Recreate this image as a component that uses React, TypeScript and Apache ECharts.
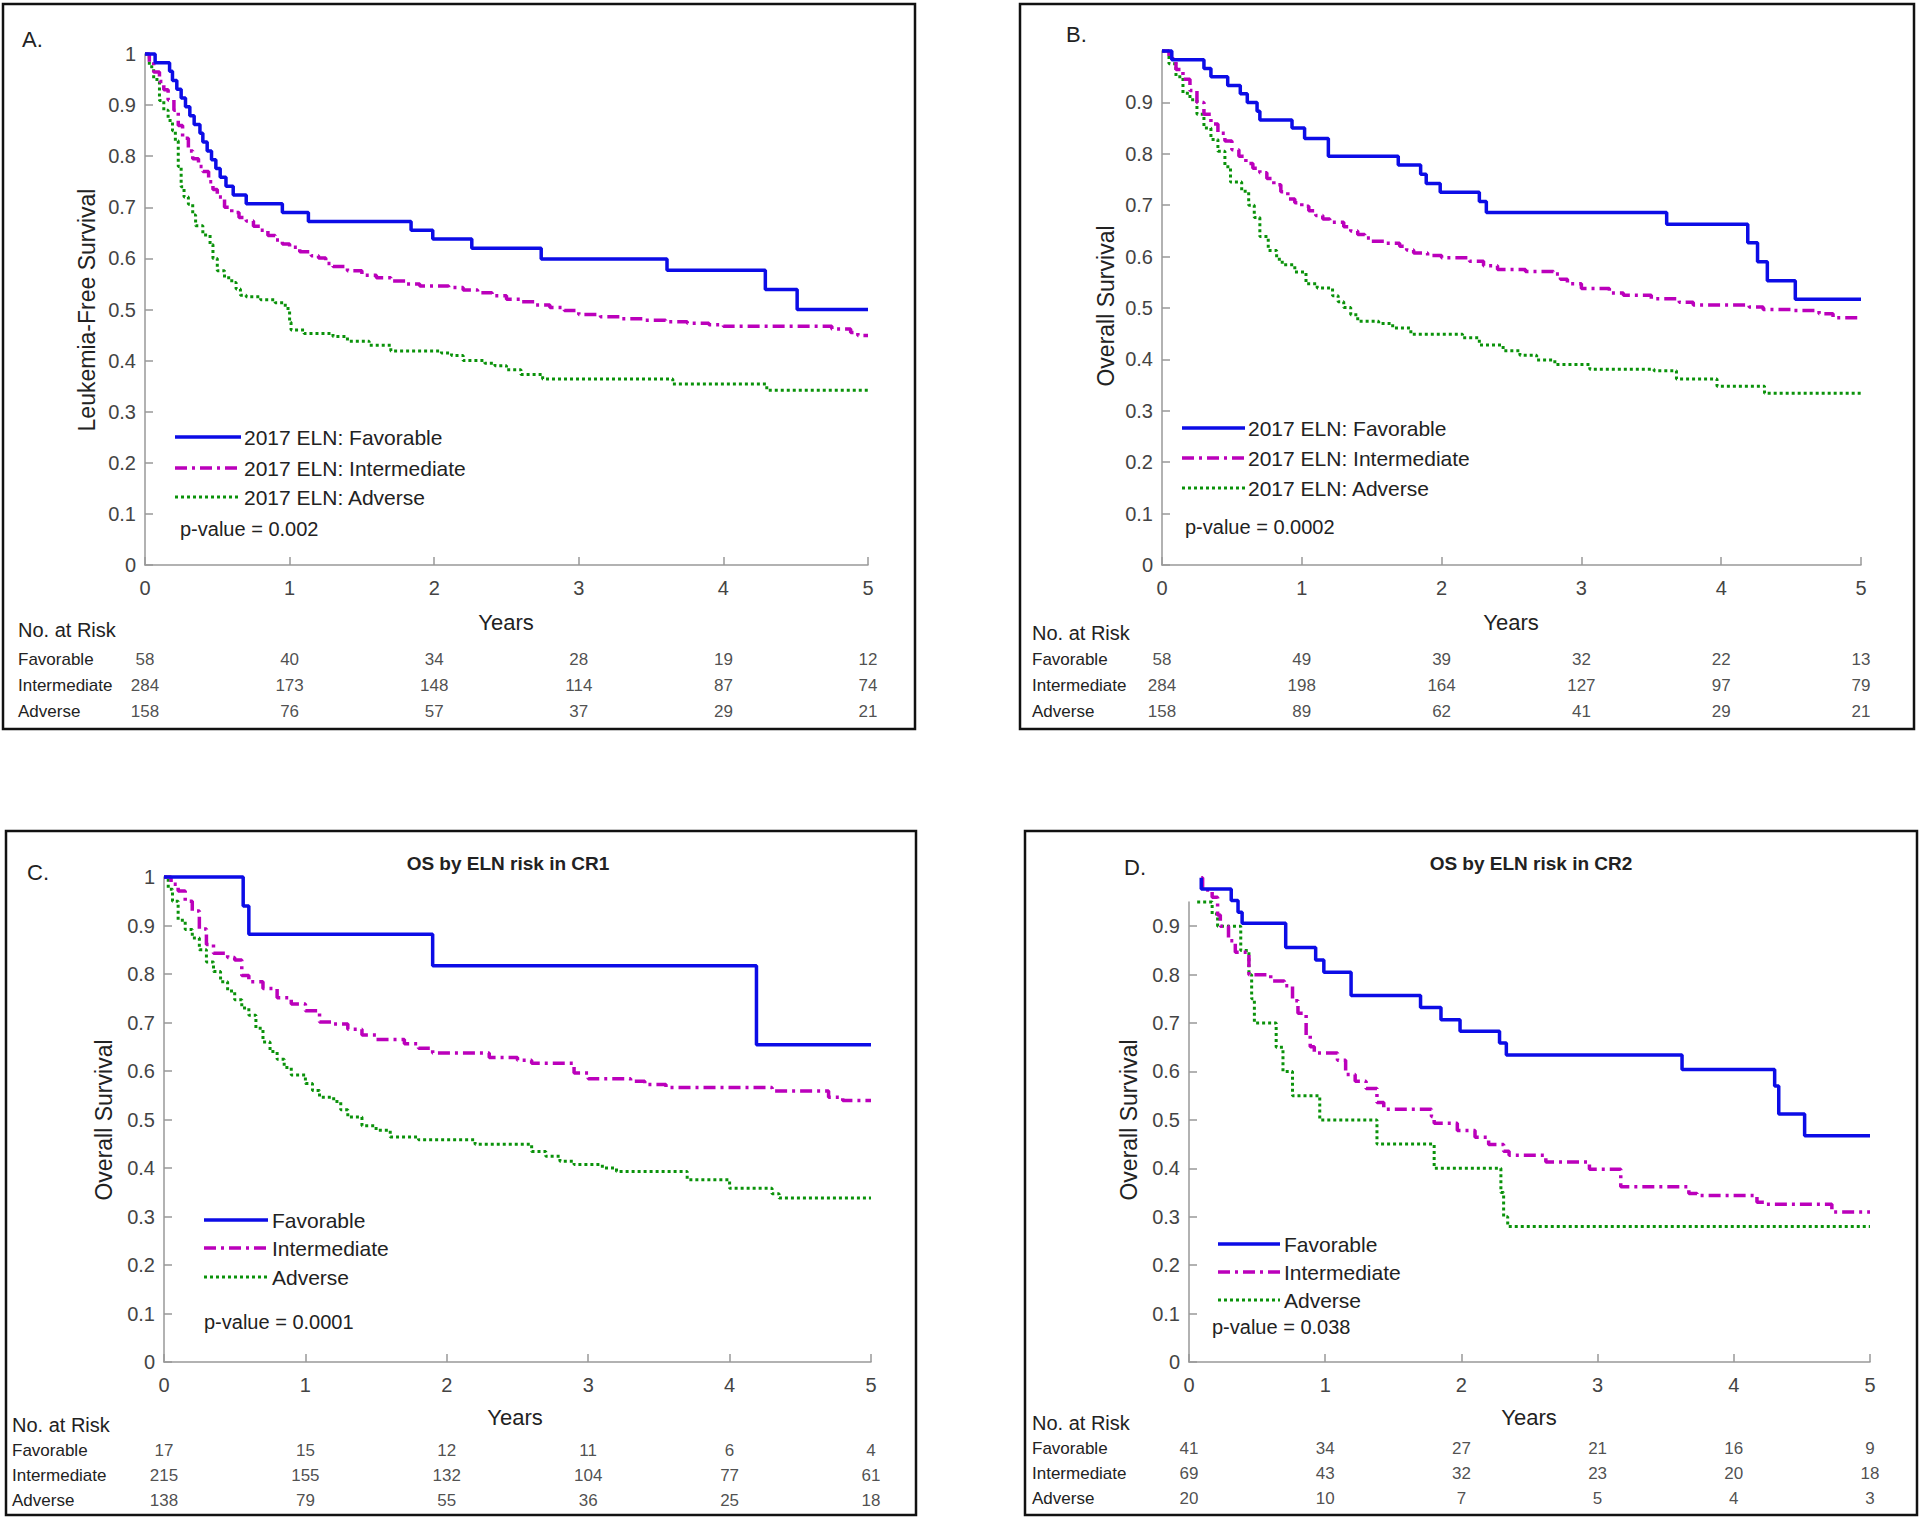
import React, { useEffect, useRef } from 'react';
import * as echarts from 'echarts';

const years = [0, 1, 2, 3, 4, 5];
const riskGroups = ['Favorable', 'Intermediate', 'Adverse'];
const yTickValues = [0, 0.1, 0.2, 0.3, 0.4, 0.5, 0.6, 0.7, 0.8, 0.9];

// Panel A: Leukemia-free survival
const aFav = [[0,1],[0.07,0.983],[0.17,0.966],[0.19,0.948],[0.22,0.931],[0.25,0.914],[0.28,0.897],[0.31,0.879],[0.34,0.862],[0.38,0.845],[0.4,0.828],[0.43,0.81],[0.46,0.793],[0.49,0.776],[0.52,0.759],[0.56,0.741],[0.61,0.724],[0.7,0.707],[0.95,0.69],[1.13,0.672],[1.84,0.655],[1.99,0.638],[2.26,0.62],[2.74,0.599],[3.61,0.577],[4.29,0.539],[4.51,0.5],[5,0.5]];
const aInt = [[0,1],[0.03,0.985],[0.06,0.965],[0.1,0.946],[0.13,0.93],[0.16,0.91],[0.2,0.89],[0.23,0.86],[0.26,0.835],[0.3,0.81],[0.33,0.795],[0.37,0.78],[0.4,0.77],[0.44,0.75],[0.47,0.735],[0.5,0.72],[0.55,0.7],[0.6,0.69],[0.65,0.68],[0.7,0.673],[0.75,0.663],[0.8,0.655],[0.85,0.645],[0.9,0.636],[0.95,0.628],[1,0.622],[1.07,0.613],[1.15,0.605],[1.2,0.601],[1.25,0.59],[1.3,0.584],[1.4,0.576],[1.5,0.567],[1.6,0.562],[1.7,0.556],[1.8,0.55],[1.9,0.546],[2.1,0.543],[2.2,0.538],[2.3,0.533],[2.4,0.527],[2.5,0.52],[2.6,0.515],[2.7,0.509],[2.8,0.504],[2.9,0.498],[3,0.49],[3.15,0.486],[3.3,0.482],[3.45,0.479],[3.6,0.476],[3.75,0.473],[3.9,0.47],[4,0.467],[4.75,0.462],[4.88,0.455],[4.93,0.449],[5,0.449]];
const aAdv = [[0,1],[0.03,0.975],[0.06,0.95],[0.1,0.909],[0.13,0.89],[0.16,0.87],[0.19,0.85],[0.21,0.83],[0.23,0.78],[0.25,0.74],[0.27,0.72],[0.3,0.706],[0.33,0.685],[0.35,0.664],[0.4,0.646],[0.45,0.627],[0.47,0.6],[0.5,0.576],[0.55,0.562],[0.6,0.553],[0.63,0.54],[0.66,0.528],[0.7,0.525],[0.8,0.519],[0.9,0.513],[0.97,0.502],[1,0.475],[1.01,0.46],[1.1,0.453],[1.3,0.447],[1.4,0.438],[1.55,0.43],[1.7,0.419],[2.05,0.415],[2.12,0.41],[2.2,0.4],[2.35,0.395],[2.42,0.39],[2.5,0.382],[2.6,0.373],[2.75,0.364],[3.65,0.354],[4.3,0.342],[5,0.342]];
const aRiskFav = [58, 40, 34, 28, 19, 12];
const aRiskInt = [284, 173, 148, 114, 87, 74];
const aRiskAdv = [158, 76, 57, 37, 29, 21];

// Panel B: Overall survival
const bFav = [[0,1],[0.07,0.983],[0.3,0.966],[0.35,0.95],[0.47,0.933],[0.56,0.917],[0.61,0.9],[0.68,0.883],[0.7,0.866],[0.93,0.85],[1.02,0.83],[1.19,0.795],[1.69,0.778],[1.85,0.76],[1.89,0.742],[1.99,0.725],[2.27,0.707],[2.32,0.686],[3.61,0.663],[4.19,0.627],[4.26,0.59],[4.33,0.553],[4.53,0.517],[5,0.517]];
const bInt = [[0,1],[0.05,0.985],[0.1,0.964],[0.15,0.945],[0.2,0.923],[0.25,0.9],[0.3,0.877],[0.35,0.858],[0.4,0.84],[0.45,0.825],[0.5,0.808],[0.55,0.795],[0.6,0.781],[0.65,0.772],[0.7,0.763],[0.75,0.752],[0.8,0.74],[0.85,0.726],[0.9,0.712],[0.95,0.705],[1,0.698],[1.05,0.689],[1.1,0.68],[1.15,0.673],[1.2,0.667],[1.3,0.658],[1.35,0.65],[1.4,0.643],[1.45,0.636],[1.5,0.63],[1.6,0.626],[1.7,0.62],[1.75,0.613],[1.8,0.607],[1.9,0.602],[2,0.598],[2.2,0.591],[2.3,0.582],[2.4,0.575],[2.6,0.571],[2.8,0.566],[2.85,0.556],[2.9,0.547],[3,0.538],[3.2,0.529],[3.3,0.525],[3.5,0.518],[3.7,0.511],[3.8,0.506],[4.2,0.502],[4.3,0.497],[4.5,0.495],[4.7,0.489],[4.8,0.481],[5,0.481]];
const bAdv = [[0,1],[0.05,0.975],[0.1,0.95],[0.15,0.918],[0.2,0.905],[0.25,0.877],[0.3,0.85],[0.35,0.828],[0.4,0.805],[0.45,0.775],[0.49,0.745],[0.57,0.727],[0.62,0.7],[0.66,0.676],[0.7,0.639],[0.76,0.612],[0.82,0.595],[0.86,0.584],[0.95,0.57],[1.03,0.547],[1.11,0.539],[1.22,0.524],[1.26,0.512],[1.3,0.501],[1.35,0.487],[1.4,0.474],[1.55,0.47],[1.65,0.461],[1.78,0.449],[2.15,0.442],[2.27,0.428],[2.44,0.417],[2.56,0.408],[2.68,0.399],[2.81,0.39],[3.06,0.381],[3.52,0.378],[3.68,0.362],[3.97,0.348],[4.31,0.334],[5,0.334]];
const bRiskFav = [58, 49, 39, 32, 22, 13];
const bRiskInt = [284, 198, 164, 127, 97, 79];
const bRiskAdv = [158, 89, 62, 41, 29, 21];

// Panel C: OS by ELN risk in CR1
const cFav = [[0,1],[0.56,0.94],[0.6,0.882],[1.9,0.817],[4.19,0.654],[5,0.654]];
const cInt = [[0,1],[0.05,0.985],[0.1,0.971],[0.15,0.95],[0.2,0.93],[0.25,0.893],[0.3,0.861],[0.35,0.843],[0.45,0.834],[0.5,0.829],[0.55,0.797],[0.6,0.784],[0.7,0.77],[0.8,0.751],[0.9,0.738],[1,0.724],[1.1,0.701],[1.2,0.697],[1.3,0.686],[1.4,0.674],[1.5,0.665],[1.7,0.656],[1.8,0.647],[1.9,0.637],[2.3,0.628],[2.5,0.622],[2.6,0.616],[2.9,0.596],[3,0.584],[3.3,0.579],[3.4,0.572],[3.55,0.566],[4.3,0.559],[4.7,0.546],[4.8,0.539],[5,0.539]];
const cAdv = [[0,1],[0.03,0.975],[0.06,0.95],[0.1,0.911],[0.15,0.892],[0.2,0.874],[0.25,0.85],[0.3,0.825],[0.35,0.805],[0.4,0.784],[0.45,0.765],[0.5,0.747],[0.55,0.73],[0.6,0.715],[0.65,0.688],[0.7,0.66],[0.75,0.64],[0.8,0.624],[0.85,0.607],[0.9,0.592],[1,0.574],[1.05,0.56],[1.1,0.546],[1.2,0.537],[1.25,0.52],[1.3,0.505],[1.4,0.487],[1.5,0.478],[1.6,0.464],[1.8,0.458],[2.2,0.449],[2.6,0.434],[2.7,0.424],[2.8,0.414],[2.9,0.407],[3.1,0.4],[3.2,0.393],[3.7,0.376],[4,0.358],[4.3,0.347],[4.35,0.338],[5,0.338]];
const cRiskFav = [17, 15, 12, 11, 6, 4];
const cRiskInt = [215, 155, 132, 104, 77, 61];
const cRiskAdv = [138, 79, 55, 36, 25, 18];

// Panel D: OS by ELN risk in CR2
const dFav = [[0.09,1],[0.09,0.977],[0.31,0.953],[0.36,0.929],[0.39,0.906],[0.71,0.88],[0.71,0.856],[0.93,0.83],[0.99,0.805],[1.19,0.757],[1.7,0.732],[1.85,0.707],[1.99,0.683],[2.28,0.659],[2.33,0.634],[3.62,0.604],[4.3,0.57],[4.33,0.512],[4.52,0.467],[5,0.467]];
const dInt = [[0.09,1],[0.1,0.975],[0.17,0.96],[0.21,0.923],[0.23,0.9],[0.29,0.87],[0.34,0.846],[0.44,0.8],[0.6,0.787],[0.7,0.777],[0.76,0.746],[0.8,0.72],[0.86,0.675],[0.89,0.651],[0.92,0.638],[1.09,0.623],[1.15,0.594],[1.22,0.58],[1.3,0.565],[1.38,0.536],[1.43,0.522],[1.78,0.507],[1.8,0.493],[1.97,0.478],[2.1,0.464],[2.2,0.449],[2.31,0.435],[2.35,0.427],[2.62,0.413],[2.94,0.398],[3.17,0.362],[3.67,0.348],[3.73,0.344],[4.17,0.33],[4.24,0.326],[4.72,0.31],[5,0.31]];
const dAdv = [[0.06,0.95],[0.17,0.925],[0.21,0.9],[0.38,0.85],[0.44,0.8],[0.46,0.75],[0.48,0.7],[0.64,0.65],[0.69,0.6],[0.76,0.55],[0.96,0.5],[1.38,0.45],[1.8,0.4],[2.29,0.35],[2.31,0.3],[2.34,0.28],[5,0.28]];
const dRiskFav = [41, 34, 27, 21, 16, 9];
const dRiskInt = [69, 43, 32, 23, 20, 18];
const dRiskAdv = [20, 10, 7, 5, 4, 3];

const FONT = "'Liberation Sans', Arial, Helvetica, sans-serif";
const COLORS = ['#0c0ce6', '#bb00bb', '#0a920a'];
const DASH: any[] = ['solid', [12, 5, 3, 5], [3, 3]];
const LDASH: any[] = [null, [12, 5, 3, 5], [3, 3]];
const WIDTH = [3.5, 3.5, 3];
const TXT = '#222222';
const TICKTXT = '#444444';
const AXC = '#999999';

const panels = [
  {
    curves: [aFav, aInt, aAdv], risk: [aRiskFav, aRiskInt, aRiskAdv],
    names: ['2017 ELN: Favorable', '2017 ELN: Intermediate', '2017 ELN: Adverse'],
    pval: 'p-value = 0.002', letter: 'A.', title: '', yName: 'Leukemia-Free Survival',
    box: [3, 4, 912, 725], grid: { left: 145, top: 54, width: 723, height: 511 }, yMax: 1, labelMax: 1, custom: false,
    riskGrid: { top: 646, height: 78 }, rowX: 18, riskTitle: [18, 630],
    letterPos: [22, 39], titlePos: [0, 0], yNamePos: [87, 310], yearsPos: [506, 622],
    leg: { x1: 175, x2: 241, tx: 244, ys: [437, 468, 497] }, pPos: [180, 529],
  },
  {
    curves: [bFav, bInt, bAdv], risk: [bRiskFav, bRiskInt, bRiskAdv],
    names: ['2017 ELN: Favorable', '2017 ELN: Intermediate', '2017 ELN: Adverse'],
    pval: 'p-value = 0.0002', letter: 'B.', title: '', yName: 'Overall Survival',
    box: [1020, 4, 894, 725], grid: { left: 1162, top: 51, width: 699, height: 514 }, yMax: 1, labelMax: 0.9, custom: false,
    riskGrid: { top: 646, height: 78 }, rowX: 1032, riskTitle: [1032, 633],
    letterPos: [1066, 34], titlePos: [0, 0], yNamePos: [1106, 306], yearsPos: [1511, 622],
    leg: { x1: 1182, x2: 1245, tx: 1248, ys: [428, 458, 488] }, pPos: [1185, 527],
  },
  {
    curves: [cFav, cInt, cAdv], risk: [cRiskFav, cRiskInt, cRiskAdv],
    names: ['Favorable', 'Intermediate', 'Adverse'],
    pval: 'p-value = 0.0001', letter: 'C.', title: 'OS by ELN risk in CR1', yName: 'Overall Survival',
    box: [6, 831, 910, 684], grid: { left: 164, top: 877, width: 707, height: 485 }, yMax: 1, labelMax: 1, custom: false,
    riskGrid: { top: 1438, height: 75 }, rowX: 12, riskTitle: [12, 1425],
    letterPos: [27, 872], titlePos: [508, 863], yNamePos: [104, 1120], yearsPos: [515, 1417],
    leg: { x1: 204, x2: 268, tx: 272, ys: [1220, 1248, 1277] }, pPos: [204, 1322],
  },
  {
    curves: [dFav, dInt, dAdv], risk: [dRiskFav, dRiskInt, dRiskAdv],
    names: ['Favorable', 'Intermediate', 'Adverse'],
    pval: 'p-value = 0.038', letter: 'D.', title: 'OS by ELN risk in CR2', yName: 'Overall Survival',
    box: [1025, 831, 892, 684], grid: { left: 1189, top: 902, width: 681, height: 460 }, yMax: 0.95, labelMax: 0.9, custom: true,
    riskGrid: { top: 1436, height: 75 }, rowX: 1032, riskTitle: [1032, 1423],
    letterPos: [1124, 867], titlePos: [1531, 863], yNamePos: [1129, 1120], yearsPos: [1529, 1417],
    leg: { x1: 1218, x2: 1280, tx: 1284, ys: [1244, 1272, 1300] }, pPos: [1212, 1327],
  },
];

function txt(x: number, y: number, text: string, size: number, extra: any = {}) {
  return {
    type: 'text', x, y, silent: true, rotation: extra.rotation || 0,
    style: {
      text, fontSize: size, fontFamily: FONT, fill: extra.fill || TXT,
      fontWeight: extra.bold ? 'bold' : 'normal',
      align: extra.align || 'left', verticalAlign: 'middle',
    },
  };
}

function fmtY(labelMax: number) {
  return (v: number) => {
    if (v > labelMax + 1e-6) return '';
    const r = Math.round(v * 10) / 10;
    if (r === 0) return '0';
    if (r === 1) return '1';
    return r.toFixed(1);
  };
}

function buildOption() {
  const grid: any[] = [];
  const xAxis: any[] = [];
  const yAxis: any[] = [];
  const series: any[] = [];
  const graphic: any[] = [];

  panels.forEach((p, i) => {
    const gi = i * 2;
    grid.push({ ...p.grid, containLabel: false });
    grid.push({ left: p.grid.left, width: p.grid.width, top: p.riskGrid.top, height: p.riskGrid.height, containLabel: false });

    xAxis.push({
      gridIndex: gi, type: 'value', min: 0, max: 5, interval: 1,
      axisLine: { show: true, lineStyle: { color: AXC, width: 1.5 } },
      axisTick: { show: true, inside: true, length: 8, lineStyle: { color: AXC, width: 1.5 } },
      axisLabel: { fontSize: 20, color: TICKTXT, fontFamily: FONT, margin: 13 },
      splitLine: { show: false },
    });
    xAxis.push({ gridIndex: gi + 1, type: 'value', min: 0, max: 5, show: false });

    const yTick: any = { show: true, inside: true, length: 8, lineStyle: { color: AXC, width: 1.5 } };
    const yLabel: any = { fontSize: 20, color: TICKTXT, fontFamily: FONT, margin: 9, formatter: fmtY(p.labelMax) };
    if (p.custom) {
      yTick.customValues = yTickValues;
      yLabel.customValues = yTickValues;
    }
    yAxis.push({
      gridIndex: gi, type: 'value', min: 0, max: p.yMax, interval: 0.1,
      axisLine: { show: true, lineStyle: { color: AXC, width: 1.5 } },
      axisTick: yTick, axisLabel: yLabel,
      splitLine: { show: false },
    });
    yAxis.push({
      gridIndex: gi + 1, type: 'category', data: riskGroups, inverse: true,
      axisLine: { show: false }, axisTick: { show: false }, splitLine: { show: false },
      axisLabel: { align: 'left', margin: p.grid.left - p.rowX, fontSize: 17, color: TXT, fontFamily: FONT },
    });

    p.curves.forEach((c, k) => {
      series.push({
        type: 'line', name: p.names[k], xAxisIndex: gi, yAxisIndex: gi, data: c,
        step: 'end', showSymbol: false, symbol: 'none', clip: false, silent: true,
        lineStyle: { color: COLORS[k], width: WIDTH[k], type: DASH[k], cap: 'butt' },
        z: 3 + (2 - k),
      });
    });

    const riskData: any[] = [];
    p.risk.forEach((row, r) => row.forEach((n, j) => riskData.push([years[j], r, n])));
    series.push({
      type: 'scatter', xAxisIndex: gi + 1, yAxisIndex: gi + 1, data: riskData,
      symbolSize: 1, itemStyle: { color: 'rgba(0,0,0,0)' }, silent: true,
      label: {
        show: true, position: 'inside', fontSize: 17, color: TXT, fontFamily: FONT,
        formatter: (q: any) => String(q.data[2]),
      },
    });

    graphic.push({
      type: 'rect', silent: true,
      shape: { x: p.box[0], y: p.box[1], width: p.box[2], height: p.box[3] },
      style: { fill: 'none', stroke: '#111', lineWidth: 2.5 },
    });
    graphic.push(txt(p.letterPos[0], p.letterPos[1], p.letter, 22));
    if (p.title) graphic.push(txt(p.titlePos[0], p.titlePos[1], p.title, 19, { bold: true, align: 'center' }));
    graphic.push(txt(p.yNamePos[0], p.yNamePos[1], p.yName, 23, { rotation: Math.PI / 2, align: 'center' }));
    graphic.push(txt(p.yearsPos[0], p.yearsPos[1], 'Years', 22, { align: 'center' }));
    graphic.push(txt(p.riskTitle[0], p.riskTitle[1], 'No. at Risk', 20));
    p.names.forEach((nm, k) => {
      const y = p.leg.ys[k];
      graphic.push({
        type: 'line', silent: true,
        shape: { x1: p.leg.x1, y1: y, x2: p.leg.x2, y2: y },
        style: { stroke: COLORS[k], lineWidth: WIDTH[k], lineDash: LDASH[k] },
      });
      graphic.push(txt(p.leg.tx, y, nm, 21));
    });
    graphic.push(txt(p.pPos[0], p.pPos[1], p.pval, 20));
  });

  return {
    animation: false,
    backgroundColor: '#ffffff',
    grid, xAxis, yAxis, series, graphic,
  };
}

export default function App() {
  const ref = useRef<HTMLDivElement>(null);
  useEffect(() => {
    if (!ref.current) return;
    const chart = echarts.init(ref.current, null, { renderer: 'svg', width: 1920, height: 1520 });
    chart.setOption(buildOption() as any);
    return () => chart.dispose();
  }, []);
  return (
    <div
      ref={ref}
      style={{ position: 'absolute', left: 0, top: 0, width: 1920, height: 1520, background: '#fff' }}
    />
  );
}
